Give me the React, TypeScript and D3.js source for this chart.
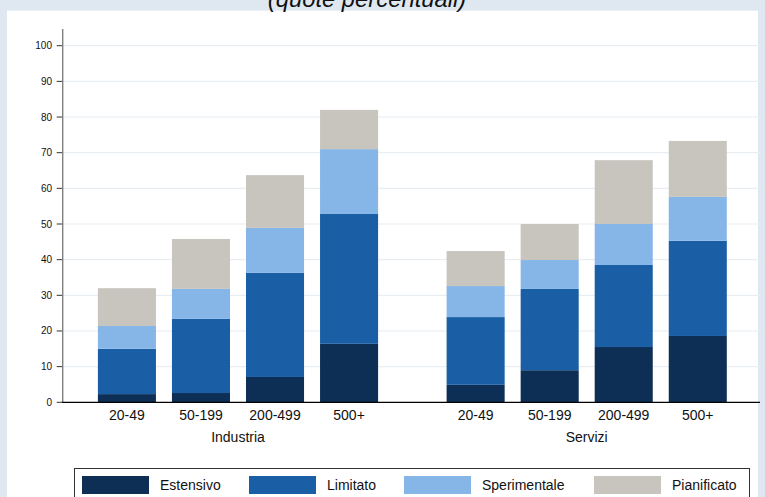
import * as d3 from 'd3'

const groups = ['Industria', 'Servizi']
const sizes = ['20-49', '50-199', '200-499', '500+']

// valori per barra, in ordine: Industria 20-49..500+, Servizi 20-49..500+
const estensivo = [2.3, 2.6, 7.1, 16.4, 4.9, 9.0, 15.5, 18.6]
const limitato = [12.7, 20.8, 29.2, 36.4, 19.0, 22.8, 23.0, 26.7]
const sperimentale = [6.4, 8.4, 12.6, 18.2, 8.7, 8.1, 11.5, 12.3]
const pianificato = [10.6, 14.0, 14.8, 11.0, 9.8, 10.1, 17.9, 15.7]

const seriesNames = ['Estensivo', 'Limitato', 'Sperimentale', 'Pianificato']
const seriesColors = ['#0e2f55', '#1a5fa5', '#86b6e8', '#c8c5bf']
const yTicks = [0, 10, 20, 30, 40, 50, 60, 70, 80, 90, 100]

const W = 765
const H = 497
const font = 'Liberation Sans, Arial, Helvetica, sans-serif'

type Row = { group: string; size: string; [k: string]: number | string }

export default function App() {
  const values = [estensivo, limitato, sperimentale, pianificato]
  const rows: Row[] = []
  groups.forEach((g, gi) =>
    sizes.forEach((s, si) => {
      const r: Row = { group: g, size: s }
      seriesNames.forEach((n, k) => (r[n] = values[k][gi * sizes.length + si]))
      rows.push(r)
    })
  )

  const stacked = d3.stack<Row>().keys(seriesNames).value((d, k) => d[k] as number)(rows)

  const axisX = 62.7
  const x0 = d3.scaleBand().domain(groups).range([axisX, 762]).paddingInner(0.1506).paddingOuter(0.078)
  const x1 = d3.scaleBand().domain(sizes).range([0, x0.bandwidth()]).paddingInner(0.216).paddingOuter(0.108)
  const y = d3.scaleLinear().domain([0, 100]).range([402.3, 45.7])

  const barX = (d: Row) => (x0(d.group) ?? 0) + (x1(d.size) ?? 0)

  const legendX = [82, 249, 404, 594]

  return (
    <svg width={W} height={H} style={{ position: 'absolute', left: 0, top: 0 }} fontFamily={font}>
      <rect x={0} y={0} width={W} height={H} fill="#dfe8f1" />
      <rect x={7} y={10.7} width={751} height={H - 10.7} fill="#ffffff" />
      <text x={367} y={6.5} textAnchor="middle" fontSize={23.8} fontStyle="italic" fill="#111">
        (quote percentuali)
      </text>

      {yTicks.map((t) => (
        <g key={t}>
          {t > 0 && <line x1={axisX} x2={760} y1={y(t)} y2={y(t)} stroke="#e8eef1" strokeWidth={1.2} />}
          <line x1={56.7} x2={axisX} y1={y(t)} y2={y(t)} stroke="#333" strokeWidth={1} />
          <text x={52} y={y(t) + 3.5} textAnchor="end" fontSize={10} fill="#111">
            {t}
          </text>
        </g>
      ))}

      {stacked.map((layer, k) => (
        <g key={layer.key} fill={seriesColors[k]}>
          {layer.map((seg, i) => (
            <rect
              key={i}
              x={barX(seg.data)}
              y={y(seg[1])}
              width={x1.bandwidth()}
              height={y(seg[0]) - y(seg[1])}
            />
          ))}
        </g>
      ))}

      <line x1={axisX} x2={axisX} y1={29} y2={402.3} stroke="#808080" strokeWidth={1.4} />
      <line x1={axisX - 0.7} x2={760} y1={402.3} y2={402.3} stroke="#000" strokeWidth={1.2} />

      {rows.map((d, i) => (
        <text key={i} x={barX(d) + x1.bandwidth() / 2} y={420} textAnchor="middle" fontSize={14} fill="#111">
          {d.size}
        </text>
      ))}
      {groups.map((g) => (
        <text key={g} x={(x0(g) ?? 0) + x0.bandwidth() / 2} y={442.3} textAnchor="middle" fontSize={14} fill="#111">
          {g}
        </text>
      ))}

      <rect x={74.5} y={468.5} width={675} height={40} fill="#fff" stroke="#333" strokeWidth={1} />
      {seriesNames.map((n, k) => (
        <g key={n}>
          <rect x={legendX[k]} y={476} width={67} height={18} fill={seriesColors[k]} />
          <text x={legendX[k] + 78} y={490} fontSize={14} fill="#111">
            {n}
          </text>
        </g>
      ))}
    </svg>
  )
}
